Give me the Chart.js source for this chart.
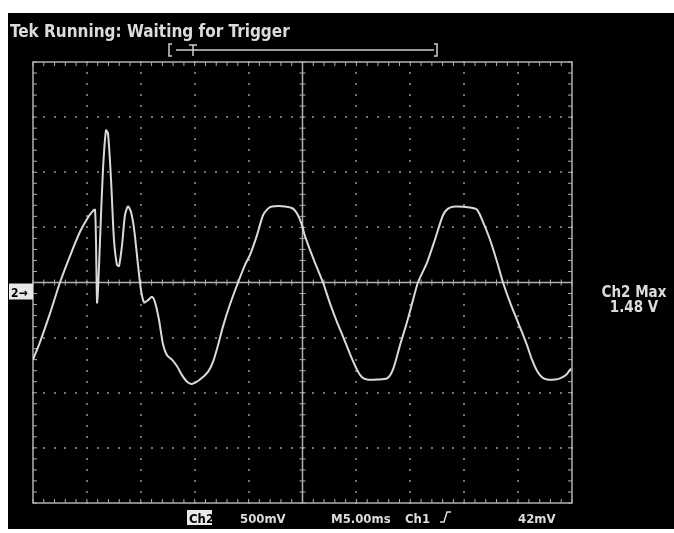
<!DOCTYPE html>
<html>
<head>
<meta charset="utf-8">
<script src="https://cdn.jsdelivr.net/npm/chart.js@4/dist/chart.umd.min.js"></script>
<style>
	html, body { margin: 0; padding: 0; background: #ffffff; }
	#scope { display: block; }
</style>
</head>
<body>
<canvas id="scope" width="674" height="533"></canvas>
<script>
// Ch2 trace (time in ms, 5 ms/div; volts, 500 mV/div)
const timeMs = [
	0.00, 0.65, 1.58, 2.50, 3.43, 4.36, 5.10, 5.57, 5.75, 5.84,
	5.94, 6.03, 6.22, 6.49, 6.77, 6.96, 7.24, 7.51, 7.79, 7.98,
	8.26, 8.53, 8.81, 9.09, 9.37, 9.74, 10.02, 10.30, 10.67, 11.04,
	11.32, 11.69, 12.06, 12.43, 12.89, 13.36, 13.82, 14.29, 14.75, 15.49,
	16.23, 16.70, 17.16, 17.62, 18.27, 19.02, 19.67, 20.13, 20.78, 21.34,
	21.80, 22.17, 23.38, 24.12, 24.58, 24.95, 25.23, 26.07, 26.90, 27.55,
	28.20, 28.76, 29.41, 30.05, 30.52, 30.98, 31.91, 32.84, 33.39, 34.04,
	34.69, 35.25, 35.71, 36.55, 37.29, 38.03, 38.50, 39.15, 40.54, 41.19,
	41.74, 42.39, 43.04, 43.60, 44.25, 44.90, 45.36, 45.83, 46.29, 46.75,
	47.22, 47.68, 48.42, 48.89, 49.44, 49.91
];
const ch2Volts = [
	-0.70, -0.54, -0.28, 0.00, 0.24, 0.46, 0.59, 0.65, 0.66, 0.39,
	-0.18, -0.07, 0.39, 1.02, 1.38, 1.35, 0.93, 0.39, 0.16, 0.15,
	0.34, 0.61, 0.69, 0.64, 0.49, 0.16, -0.07, -0.18, -0.16, -0.13,
	-0.18, -0.34, -0.56, -0.66, -0.70, -0.76, -0.84, -0.90, -0.92, -0.88,
	-0.81, -0.72, -0.57, -0.40, -0.20, 0.00, 0.16, 0.25, 0.43, 0.61,
	0.67, 0.69, 0.69, 0.67, 0.61, 0.52, 0.42, 0.20, 0.00, -0.19,
	-0.36, -0.49, -0.65, -0.79, -0.86, -0.88, -0.88, -0.87, -0.79, -0.57,
	-0.36, -0.16, 0.00, 0.18, 0.39, 0.61, 0.67, 0.69, 0.68, 0.66,
	0.55, 0.39, 0.19, 0.00, -0.18, -0.34, -0.45, -0.57, -0.70, -0.80,
	-0.86, -0.88, -0.88, -0.87, -0.84, -0.78
];

// screen setup
const xDivs = [0, 5, 10, 15, 20, 25, 30, 35, 40, 45, 50];
const yDivs = [-2, -1.5, -1, -0.5, 0, 0.5, 1, 1.5, 2];
const xMinorStep = 1;
const yMinorStep = 0.1;

const titleText = "Tek Running: Waiting for Trigger";
const readoutLabels = ["500mV", "M5.00ms", "Ch1", "42mV"];
const measureLines = ["Ch2 Max", "1.48 V"];

const scopeFace = {
	id: "scopeFace",
	beforeDraw(chart) {
		const { ctx } = chart;
		ctx.save();
		ctx.fillStyle = "#ffffff";
		ctx.fillRect(0, 0, chart.width, chart.height);
		ctx.fillStyle = "#000000";
		ctx.fillRect(8, 13, 666, 516);
		ctx.restore();
	},
	beforeDatasetsDraw(chart) {
		const { ctx } = chart;
		const xs = chart.scales.x;
		const ys = chart.scales.y;
		const left = xs.getPixelForValue(0);
		const right = xs.getPixelForValue(50);
		const top = ys.getPixelForValue(2);
		const bottom = ys.getPixelForValue(-2);
		const cx = xs.getPixelForValue(25);
		const cy = ys.getPixelForValue(0);

		ctx.save();
		// dotted graticule
		ctx.fillStyle = "#727272";
		for (let i = 1; i < xDivs.length - 1; i++) {
			if (xDivs[i] === 25) continue;
			const px = xs.getPixelForValue(xDivs[i]);
			for (let v = -2; v <= 2.0001; v += yMinorStep) {
				ctx.fillRect(Math.round(px) - 1, Math.round(ys.getPixelForValue(v)) - 1, 2, 2);
			}
		}
		for (let j = 1; j < yDivs.length - 1; j++) {
			if (yDivs[j] === 0) continue;
			const py = ys.getPixelForValue(yDivs[j]);
			for (let t = 0; t <= 50.0001; t += xMinorStep) {
				ctx.fillRect(Math.round(xs.getPixelForValue(t)) - 1, Math.round(py) - 1, 2, 2);
			}
		}

		// frame and centre cross
		ctx.strokeStyle = "#b0b0b0";
		ctx.lineWidth = 1.5;
		ctx.strokeRect(left, top, right - left, bottom - top);
		ctx.beginPath();
		ctx.moveTo(left, cy);
		ctx.lineTo(right, cy);
		ctx.moveTo(cx, top);
		ctx.lineTo(cx, bottom);
		ctx.stroke();

		// minor ticks
		ctx.lineWidth = 1;
		ctx.beginPath();
		for (let t = 0; t <= 50.0001; t += xMinorStep) {
			const px = xs.getPixelForValue(t);
			ctx.moveTo(px, cy - 3);
			ctx.lineTo(px, cy + 3);
			ctx.moveTo(px, top);
			ctx.lineTo(px, top + 4);
			ctx.moveTo(px, bottom);
			ctx.lineTo(px, bottom - 4);
		}
		for (let v = -2; v <= 2.0001; v += yMinorStep) {
			const py = ys.getPixelForValue(v);
			ctx.moveTo(cx - 3, py);
			ctx.lineTo(cx + 3, py);
			ctx.moveTo(left, py);
			ctx.lineTo(left + 4, py);
			ctx.moveTo(right, py);
			ctx.lineTo(right - 4, py);
		}
		ctx.stroke();
		ctx.restore();
	},
	afterDraw(chart) {
		const { ctx } = chart;
		const ys = chart.scales.y;
		const cy = ys.getPixelForValue(0);
		ctx.save();
		ctx.fillStyle = "#dcdcdc";
		ctx.textBaseline = "alphabetic";

		ctx.font = "bold 17px 'DejaVu Sans Condensed', 'DejaVu Sans'";
		ctx.fillText(titleText, 10, 37);

		// trigger position bracket
		ctx.strokeStyle = "#d0d0d0";
		ctx.lineWidth = 1.5;
		ctx.beginPath();
		ctx.moveTo(172, 44); ctx.lineTo(169, 44); ctx.lineTo(169, 56); ctx.lineTo(172, 56);
		ctx.moveTo(434, 44); ctx.lineTo(437, 44); ctx.lineTo(437, 56); ctx.lineTo(434, 56);
		ctx.moveTo(176, 50); ctx.lineTo(434, 50);
		ctx.moveTo(189, 45); ctx.lineTo(197, 45);
		ctx.moveTo(193, 45); ctx.lineTo(193, 56);
		ctx.stroke();

		// ground marker
		ctx.fillStyle = "#e8e8e8";
		ctx.fillRect(9, cy + 1, 24, 16);
		ctx.fillStyle = "#000000";
		ctx.font = "bold 12px 'DejaVu Sans Condensed', 'DejaVu Sans'";
		ctx.fillText("2\u2192", 11, cy + 14);

		// bottom readout
		ctx.fillStyle = "#e8e8e8";
		ctx.fillRect(187, 510, 25, 15);
		ctx.fillStyle = "#000000";
		ctx.font = "bold 13px 'DejaVu Sans Condensed', 'DejaVu Sans'";
		ctx.fillText("Ch2", 189, 523);
		ctx.fillStyle = "#dcdcdc";
		ctx.fillText(readoutLabels[0], 240, 523);
		ctx.fillText(readoutLabels[1], 331, 523);
		ctx.fillText(readoutLabels[2], 405, 523);
		ctx.fillText(readoutLabels[3], 518, 523);
		ctx.strokeStyle = "#dcdcdc";
		ctx.lineWidth = 1.5;
		ctx.beginPath();
		ctx.moveTo(440, 522); ctx.lineTo(444, 522); ctx.lineTo(447, 512); ctx.lineTo(451, 512);
		ctx.stroke();

		// measurement readout
		ctx.textAlign = "center";
		ctx.font = "bold 15px 'DejaVu Sans Condensed', 'DejaVu Sans'";
		ctx.fillText(measureLines[0], 634, 297);
		ctx.fillText(measureLines[1], 634, 312);
		ctx.restore();
	}
};

new Chart(document.getElementById("scope"), {
	type: "line",
	data: {
		datasets: [
			{
				label: "Ch2",
				data: timeMs.map((t, i) => ({ x: t, y: ch2Volts[i] })),
				borderColor: "#dadada",
				borderWidth: 2,
				pointRadius: 0,
				tension: 0.25,
				fill: false,
			},
		],
	},
	options: {
		responsive: false,
		animation: false,
		devicePixelRatio: 1,
		layout: { padding: { left: 33, top: 62, right: 102, bottom: 30 } },
		plugins: { legend: { display: false }, tooltip: { enabled: false } },
		scales: {
			x: { type: "linear", min: 0, max: 50, display: false },
			y: { type: "linear", min: -2, max: 2, display: false },
		},
	},
	plugins: [scopeFace],
});
</script>
</body>
</html>
